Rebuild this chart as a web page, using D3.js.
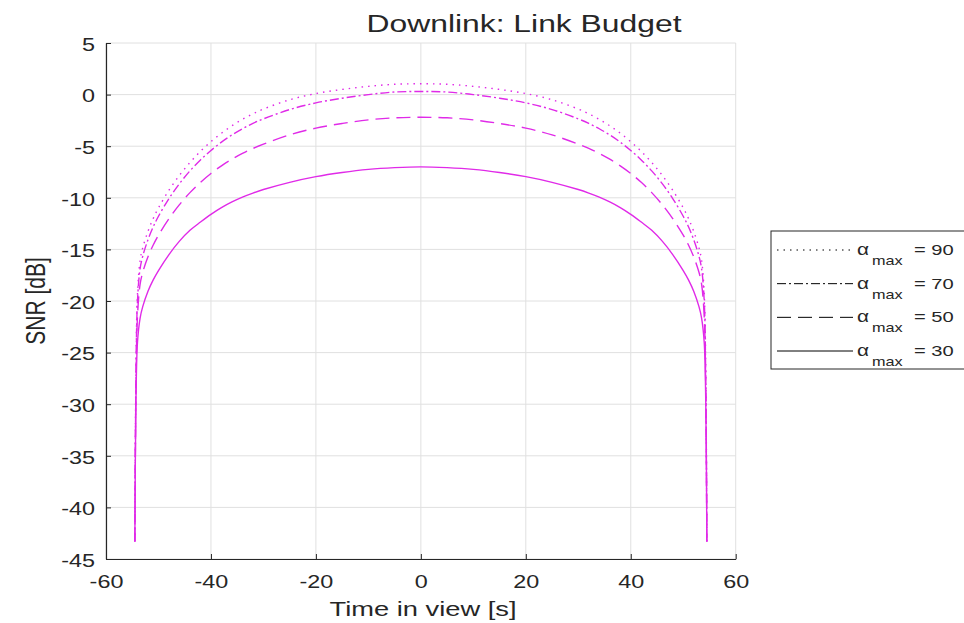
<!DOCTYPE html>
<html>
<head>
<meta charset="utf-8">
<title>Downlink: Link Budget</title>
<script src="https://d3js.org/d3.v7.min.js"></script>
<style>
body { margin: 0; background: #fff; }
svg text { font-family: "Liberation Sans", Arial, sans-serif; fill: #262626; }
</style>
</head>
<body>
<div id="chart"></div>
<script>
// time in view [s]
var times = [-54.5, -54.3, -54, -53.5, -53, -52, -51, -50, -48, -46, -44, -42, -40, -38, -36, -34, -32, -30, -25, -20, -15, -10, -5, 0,
             5, 10, 15, 20, 25, 30, 32, 34, 36, 38, 40, 42, 44, 46, 48, 50, 51, 52, 53, 53.5, 54, 54.3, 54.5];

// SNR [dB] for each alpha_max
var snr90 = [-43.3, -27, -19.3, -16.05, -14.85, -13.25, -12.0, -10.98, -9.26, -7.82, -6.58, -5.5, -4.56, -3.74, -3.02, -2.4, -1.86, -1.4, -0.5, 0.1, 0.5, 0.8, 1.0, 1.05,
             1.0, 0.8, 0.5, 0.1, -0.5, -1.4, -1.86, -2.4, -3.02, -3.74, -4.56, -5.5, -6.58, -7.82, -9.26, -10.98, -12.0, -13.25, -14.85, -16.05, -19.3, -27, -43.3];
var snr70 = [-43.3, -28, -20, -16.86, -15.66, -14.06, -12.81, -11.79, -10.07, -8.63, -7.39, -6.33, -5.41, -4.61, -3.91, -3.31, -2.79, -2.35, -1.45, -0.8, -0.35, 0.0, 0.25, 0.3,
             0.25, 0.0, -0.35, -0.8, -1.45, -2.35, -2.79, -3.31, -3.91, -4.61, -5.41, -6.33, -7.39, -8.63, -10.07, -11.79, -12.81, -14.06, -15.66, -16.86, -20, -28, -43.3];
var snr50 = [-43.3, -29, -21.5, -18.37, -17.22, -15.72, -14.57, -13.62, -12.02, -10.66, -9.5, -8.5, -7.64, -6.9, -6.26, -5.7, -5.22, -4.8, -3.9, -3.25, -2.8, -2.45, -2.25, -2.2,
             -2.25, -2.45, -2.8, -3.25, -3.9, -4.8, -5.22, -5.7, -6.26, -6.9, -7.64, -8.5, -9.5, -10.66, -12.02, -13.62, -14.57, -15.72, -17.22, -18.37, -21.5, -29, -43.3];
var snr30 = [-43.3, -30, -24, -21.65, -20.55, -19.05, -17.95, -17.05, -15.5, -14.2, -13.15, -12.35, -11.6, -10.95, -10.4, -9.93, -9.54, -9.2, -8.5, -7.95, -7.55, -7.25, -7.08, -7.0,
             -7.08, -7.25, -7.55, -7.95, -8.5, -9.2, -9.54, -9.93, -10.4, -10.95, -11.6, -12.35, -13.15, -14.2, -15.5, -17.05, -17.95, -19.05, -20.55, -21.65, -24, -30, -43.3];

var legendLabels = ["90", "70", "50", "30"];
var xTicks = [-60, -40, -20, 0, 20, 40, 60];
var yTicks = [5, 0, -5, -10, -15, -20, -25, -30, -35, -40, -45];

var w = 964, h = 623,
    sx = 1.3,               // the picture is stretched sideways
    lineColor = "#e02ae8";

var series = [
  {label: legendLabels[0], values: snr90, dash: "1.5 5"},
  {label: legendLabels[1], values: snr70, dash: "9 3 2 3"},
  {label: legendLabels[2], values: snr50, dash: "14 7"},
  {label: legendLabels[3], values: snr30, dash: null}
];

var x = d3.scaleLinear().domain([-60, 60]).range([106, 735.7]);
var y = d3.scaleLinear().domain([-45, 5]).range([559, 43]);

var svg = d3.select("#chart").append("svg")
    .attr("width", w)
    .attr("height", h);

// stretched text helper
var addText = function(parent, px, py, str, size, anchor, rot) {
  return parent.append("text")
    .attr("transform", "translate(" + px + "," + py + ") scale(" + sx + ",1)" + (rot ? " rotate(" + rot + ")" : ""))
    .attr("text-anchor", anchor || "start")
    .style("font-size", size + "px")
    .text(str);
};

// grid
var grid = svg.append("g").attr("stroke", "#e0e0e0").attr("stroke-width", 1);
grid.selectAll(".vx").data(xTicks).enter().append("line")
    .attr("x1", function(d){ return x(d); }).attr("x2", function(d){ return x(d); })
    .attr("y1", y(-45)).attr("y2", y(5));
grid.selectAll(".hy").data(yTicks).enter().append("line")
    .attr("x1", x(-60)).attr("x2", x(60))
    .attr("y1", function(d){ return y(d); }).attr("y2", function(d){ return y(d); });

// curves
var line = d3.line()
    .x(function(d){ return x(d[0]); })
    .y(function(d){ return y(d[1]); })
    .curve(d3.curveCatmullRom.alpha(0.5));

svg.append("g").selectAll("path").data(series).enter().append("path")
    .attr("d", function(s){ return line(times.map(function(t, i){ return [t, s.values[i]]; })); })
    .attr("fill", "none")
    .attr("stroke", lineColor)
    .attr("stroke-width", 1.4)
    .attr("stroke-dasharray", function(s){ return s.dash; });

// axes
var fmt = function(d){ return String(d); };   // plain hyphen minus
var xAxis = svg.append("g")
    .attr("transform", "translate(0," + y(-45) + ")")
    .call(d3.axisBottom(x).tickValues(xTicks).tickFormat(fmt).tickSizeInner(-5).tickSizeOuter(0).tickPadding(16));
var yAxis = svg.append("g")
    .attr("transform", "translate(" + x(-60) + ",0)")
    .call(d3.axisLeft(y).tickValues(yTicks).tickFormat(fmt).tickSizeInner(-5).tickSizeOuter(0).tickPadding(8.5));

[xAxis, yAxis].forEach(function(a){
  a.select(".domain").attr("stroke", "#262626").attr("stroke-width", 1.2);
  a.selectAll(".tick line").attr("stroke", "#262626");
  a.selectAll(".tick text")
    .style("font-size", "18px")
    .attr("font-family", null)
    .attr("transform", "scale(" + sx + ",1)");
});
yAxis.selectAll(".tick text").attr("dy", "0.4em");

// titles
addText(svg, 524, 32, "Downlink: Link Budget", 24.5, "middle");
addText(svg, 423, 616, "Time in view [s]", 21, "middle");
addText(svg, 45, 301, "SNR [dB]", 21, "middle", -90);

// legend
var leg = svg.append("g");
leg.append("rect")
    .attr("x", 771).attr("y", 231)
    .attr("width", 210).attr("height", 138)
    .attr("fill", "#fff")
    .attr("stroke", "#262626")
    .attr("stroke-width", 1);

var rowY = d3.scalePoint().domain(legendLabels).range([250, 351]);
series.forEach(function(s){
  var ry = rowY(s.label);
  leg.append("line")
    .attr("x1", 777).attr("x2", 853)
    .attr("y1", ry).attr("y2", ry)
    .attr("stroke", "#000")
    .attr("stroke-width", 1)
    .attr("stroke-dasharray", s.dash);
  addText(leg, 857, ry + 5, "\u03b1", 16, "start");
  addText(leg, 872, ry + 15, "max", 12.5, "start");
  addText(leg, 914, ry + 5, "= " + s.label, 15.5, "start");
});
</script>
</body>
</html>
